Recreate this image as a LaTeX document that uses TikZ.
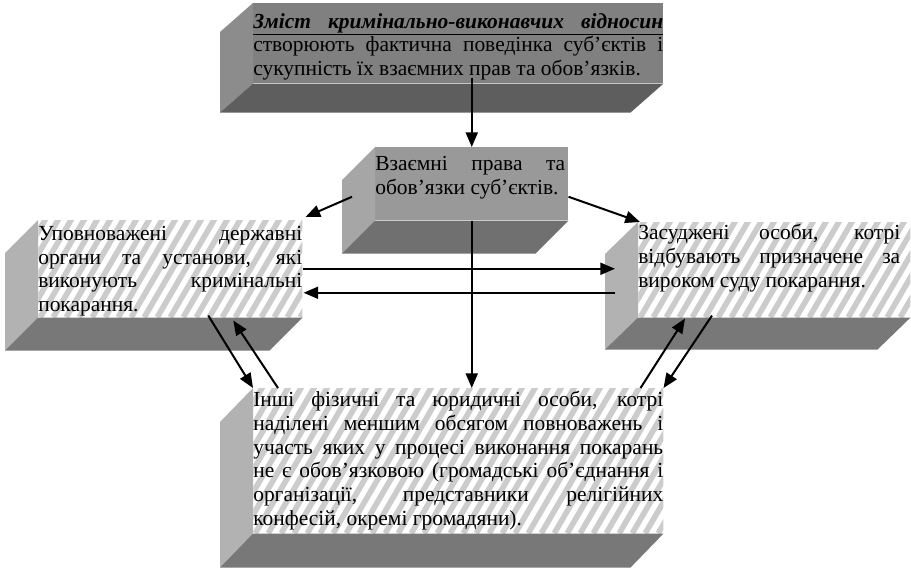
\documentclass[tikz,border=0pt]{standalone}
\usepackage{fontspec}
\setmainfont{Liberation Serif}
\usepackage{tikz}
\usetikzlibrary{arrows.meta, calc}
\newlength{\pxu}
\setlength{\pxu}{0.75pt}
\definecolor{topfront}{gray}{0.50}
\definecolor{topside}{gray}{0.55}
\definecolor{topbottom}{gray}{0.37}
\definecolor{midfront}{gray}{0.60}
\definecolor{midside}{gray}{0.65}
\definecolor{midbottom}{gray}{0.44}
\definecolor{hside}{gray}{0.70}
\definecolor{hbottom}{gray}{0.47}
\definecolor{stripegray}{gray}{0.80}
\newcommand{\facetext}[4]{\parbox[t][#1\pxu][t]{#2\pxu}{\vspace*{#3\pxu}#4}}
\newcommand{\jl}[1]{\makebox[\linewidth][s]{#1}\\}

\begin{document}
\begin{tikzpicture}[x=0.75pt, y=-0.75pt,
  face/.style={inner sep=0pt, anchor=north west, font=\fontsize{16.1}{17.8}\selectfont},
  stripe/.style={line width=4.2pt, stripegray},
  hatched/.style={face, fill=white, path picture={
      \foreach \k in {0,...,52}
        \draw[stripe] ($(path picture bounding box.south west)+(\k*13-180,0)$) -- ++(175,-300);}},
  conn/.style={-{Triangle[length=11pt,width=9pt]}, line width=1.5pt}]
  \useasboundingbox (0,0) rectangle (911,568);
  \def\dep{33}
  \node[face, fill=topfront] (content) at (253,3) {\facetext{80}{410}{10}{%
    \underline{\makebox[\linewidth][s]{\bfseries\itshape Зміст кримінально-виконавчих відносин}}\\
    \jl{створюють фактична поведінка суб’єктів і}
    сукупність їх взаємних прав та обов’язків.}};
  \node[face, fill=midfront] (rights) at (375,147) {\facetext{73}{193}{9}{%
    \setlength{\linewidth}{190\pxu}%
    \jl{Взаємні права та}
    обов’язки суб’єктів.}};
  \node[hatched] (organs) at (38,220) {\facetext{97}{264}{6}{%
    \jl{Уповноважені державні}
    \jl{органи та установи, які}
    \jl{виконують кримінальні}
    покарання.}};
  \node[hatched] (convicts) at (638,222) {\facetext{95}{272}{2}{%
    \setlength{\linewidth}{262\pxu}%
    \jl{Засуджені особи, котрі}
    \jl{відбувають призначене за}
    вироком суду покарання.}};
  \node[hatched] (others) at (253,388) {\facetext{145}{410}{3}{%
    \jl{Інші фізичні та юридичні особи, котрі}
    \jl{наділені меншим обсягом повноважень і}
    \jl{участь яких у процесі виконання покарань}
    \jl{не є обов’язковою (громадські об’єднання і}
    \jl{організації, представники релігійних}
    конфесій, окремі громадяни).}};
  % side and bottom faces of each slab
  \foreach \n/\s/\b/\h in {content/topside/topbottom/29, rights/midside/midbottom/33,
      organs/hside/hbottom/33, convicts/hside/hbottom/32, others/hside/hbottom/34}{
    \fill[\s] (\n.north west) -- ++(-\dep,\h) -- ($(\n.south west)+(-\dep,\h)$) -- (\n.south west) -- cycle;
    \fill[\b] (\n.south west) -- (\n.south east) -- ++(-\dep,\h) -- ($(\n.south west)+(-\dep,\h)$) -- cycle;
  }
  % connectors
  \draw[conn] ($(rights.north |- content.south)+(0,-6)$) -- (rights.north);
  \draw[conn] ($(rights.west)+(-23,13)$) -- ($(organs.north east)+(3,-3)$);
  \draw[conn] ($(rights.east)+(0,13)$) -- ($(convicts.north west)+(2,0)$);
  \draw[conn] (rights.south) -- (rights.south |- others.north);
  \draw[conn] (organs.east) -- ($(organs.east -| convicts.west)+(-23,0)$);
  \draw[conn] ($(organs.east -| convicts.west)+(-23,24)$) -- ($(organs.east)+(1,24)$);
  \draw[conn] ($(organs.south)+(38,-2)$) -- (others.north west);
  \draw[conn] ($(others.north west)+(25,0)$) -- ($(organs.south)+(63,3)$);
  \draw[conn] ($(others.north east)+(-23,0)$) -- ($(convicts.south west)+(47,1)$);
  \draw[conn] ($(convicts.south west)+(74,-2)$) -- (others.north east);
\end{tikzpicture}
\end{document}
